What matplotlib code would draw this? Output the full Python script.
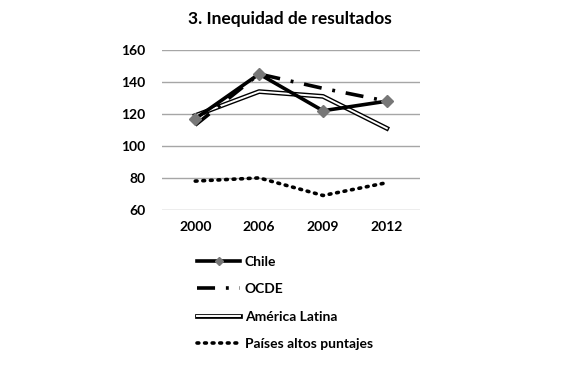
import matplotlib.pyplot as plt
from matplotlib.lines import Line2D

plt.rcParams['font.family'] = ['Lato', 'DejaVu Sans']

years = ['2000', '2006', '2009', '2012']
chile = [117, 145, 122, 128]
ocde = [113, 145, 136, 128]
america_latina = [119, 134, 131, 111]
paises_altos = [78, 80, 69, 77]
yticks = [60, 80, 100, 120, 140, 160]

fig = plt.figure(figsize=(5.85, 3.65), dpi=100)
ax = fig.add_axes([0.277, 0.425, 0.441, 0.438])
x = range(len(years))

# Países altos puntajes
ax.plot(x, paises_altos, color='black', lw=2.6, linestyle=(0, (0.5, 1.6)),
        dash_capstyle='round', zorder=3)
# América Latina (doble línea)
ax.plot(x, america_latina, color='black', lw=3.4, zorder=3)
ax.plot(x, america_latina, color='white', lw=1.4, zorder=3)
# OCDE
ax.plot(x, ocde, color='black', lw=2.6, linestyle=(0, (5, 3, 0.8, 3)), zorder=4)
# Chile
ax.plot(x, chile, color='black', lw=2.6, marker='D', markersize=6.5,
        markerfacecolor='#777777', markeredgecolor='#777777', zorder=5)

ax.set_xlim(-0.52, 3.52)
ax.set_ylim(60, 160)
ax.set_yticks(yticks)
ax.set_xticks(list(x))
ax.set_xticklabels(years)
ax.grid(axis='y', color='#a6a6a6', lw=1)
ax.set_axisbelow(True)
for s in ax.spines.values():
    s.set_visible(False)
ax.tick_params(length=0, labelsize=10, pad=8)
for lab in ax.get_xticklabels() + ax.get_yticklabels():
    lab.set_fontweight('bold')
ax.tick_params(axis='y', pad=12)

fig.text(0.495, 0.948, '3. Inequidad de resultados', ha='center', va='center',
         fontsize=12.5, fontweight='bold')

h_chile = Line2D([], [], color='black', lw=2.6, marker='D', markersize=4.5,
                 markerfacecolor='#777777', markeredgecolor='#777777')
h_ocde = Line2D([], [], color='black', lw=2.6, linestyle=(0, (5, 3, 0.8, 3)))
h_al = (Line2D([], [], color='black', lw=3.4), Line2D([], [], color='white', lw=1.4))
h_pa = Line2D([], [], color='black', lw=2.6, linestyle=(0, (0.5, 1.6)), dash_capstyle='round')
leg = fig.legend([h_chile, h_ocde, h_al, h_pa],
                 ['Chile', 'OCDE', 'América Latina', 'Países altos puntajes'],
                 loc='upper left', bbox_to_anchor=(0.328, 0.315), frameon=False,
                 handlelength=3.1, handletextpad=0.3, labelspacing=1.12,
                 prop={'weight': 'bold', 'size': 10}, borderaxespad=0)

fig.savefig('out.png', dpi=100)
